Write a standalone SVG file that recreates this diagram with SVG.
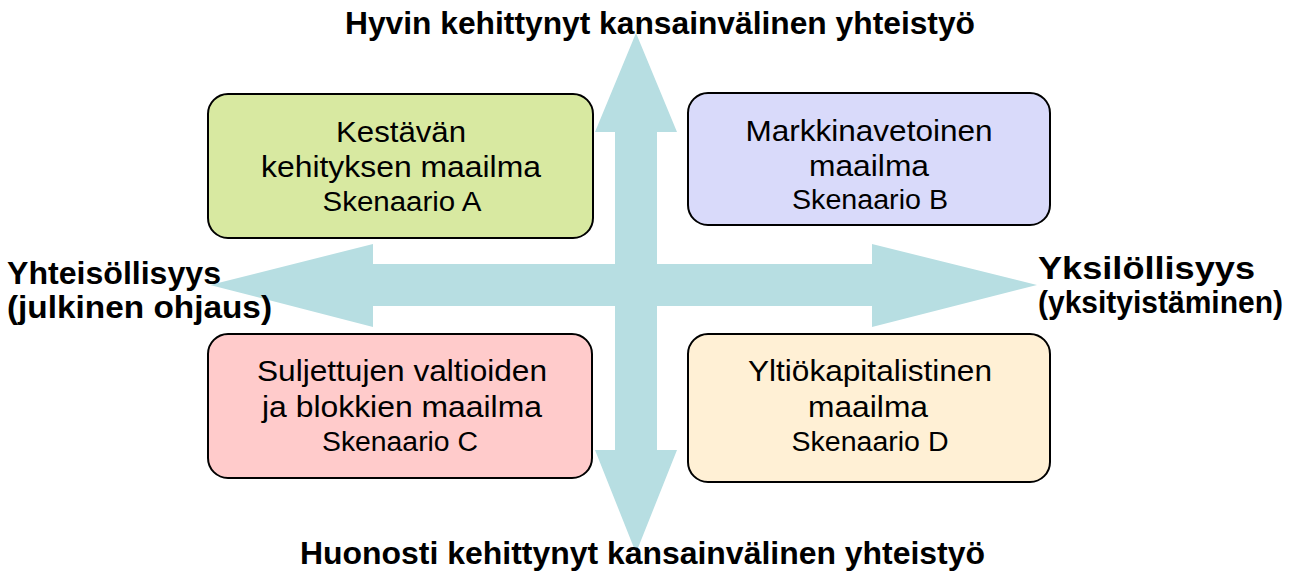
<svg xmlns="http://www.w3.org/2000/svg" width="1296" height="576" viewBox="0 0 1296 576">
<style>
.arrow{fill:#B7DEE2;stroke:none}
.box{stroke:#000;stroke-width:2}
.t{font-family:"Liberation Sans",Arial,sans-serif;font-size:30px;fill:#000;text-anchor:middle}
.s{font-family:"Liberation Sans",Arial,sans-serif;font-size:27px;fill:#000;text-anchor:middle}
.b{font-family:"Liberation Sans",Arial,sans-serif;font-size:31px;font-weight:bold;fill:#000}
</style>
<rect width="1296" height="576" fill="#fff"/>
<g id="connectors">
<polygon class="arrow" points="210,285 373,244 373,264 872,264 872,244 1037,285 872,327 872,306 373,306 373,327"/>
<polygon class="arrow" points="636,33 677,132 657,132 657,450 677,450 636,553 595,450 615,450 615,132 595,132"/>
</g>
<g id="axis-top"><text class="b" x="345" y="34" textLength="630" lengthAdjust="spacingAndGlyphs">Hyvin kehittynyt kansainvälinen yhteistyö</text></g>
<g id="axis-bottom"><text class="b" x="300" y="564" textLength="685" lengthAdjust="spacingAndGlyphs">Huonosti kehittynyt kansainvälinen yhteistyö</text></g>
<g id="axis-left">
<text class="b" x="7" y="284" textLength="214" lengthAdjust="spacingAndGlyphs">Yhteisöllisyys</text>
<text class="b" x="7" y="318" textLength="265" lengthAdjust="spacingAndGlyphs">(julkinen ohjaus)</text>
</g>
<g id="axis-right">
<text class="b" x="1038" y="279" textLength="217" lengthAdjust="spacingAndGlyphs">Yksilöllisyys</text>
<text class="b" x="1038" y="313" textLength="245" lengthAdjust="spacingAndGlyphs">(yksityistäminen)</text>
</g>
<g id="scenario-a">
<rect class="box" x="208" y="94" width="385" height="144" rx="20" fill="#D8E9A1"/>
<text class="t" x="401" y="142" textLength="130" lengthAdjust="spacingAndGlyphs">Kestävän</text>
<text class="t" x="401" y="177" textLength="280" lengthAdjust="spacingAndGlyphs">kehityksen maailma</text>
<text class="s" x="402" y="211" textLength="159" lengthAdjust="spacingAndGlyphs">Skenaario A</text>
</g>
<g id="scenario-b">
<rect class="box" x="688" y="93" width="362" height="132" rx="20" fill="#D9DAFA"/>
<text class="t" x="869" y="141" textLength="247" lengthAdjust="spacingAndGlyphs">Markkinavetoinen</text>
<text class="t" x="869" y="176" textLength="120" lengthAdjust="spacingAndGlyphs">maailma</text>
<text class="s" x="870" y="209" textLength="156" lengthAdjust="spacingAndGlyphs">Skenaario B</text>
</g>
<g id="scenario-c">
<rect class="box" x="208" y="334" width="384" height="144" rx="20" fill="#FFCBCB"/>
<text class="t" x="402" y="381" textLength="290" lengthAdjust="spacingAndGlyphs">Suljettujen valtioiden</text>
<text class="t" x="402" y="417" textLength="280" lengthAdjust="spacingAndGlyphs">ja blokkien maailma</text>
<text class="s" x="400" y="451" textLength="156" lengthAdjust="spacingAndGlyphs">Skenaario C</text>
</g>
<g id="scenario-d">
<rect class="box" x="688" y="334" width="362" height="148" rx="20" fill="#FFF0D5"/>
<text class="t" x="870" y="381" textLength="244" lengthAdjust="spacingAndGlyphs">Yltiökapitalistinen</text>
<text class="t" x="868" y="417" textLength="120" lengthAdjust="spacingAndGlyphs">maailma</text>
<text class="s" x="870" y="451" textLength="157" lengthAdjust="spacingAndGlyphs">Skenaario D</text>
</g>
</svg>
